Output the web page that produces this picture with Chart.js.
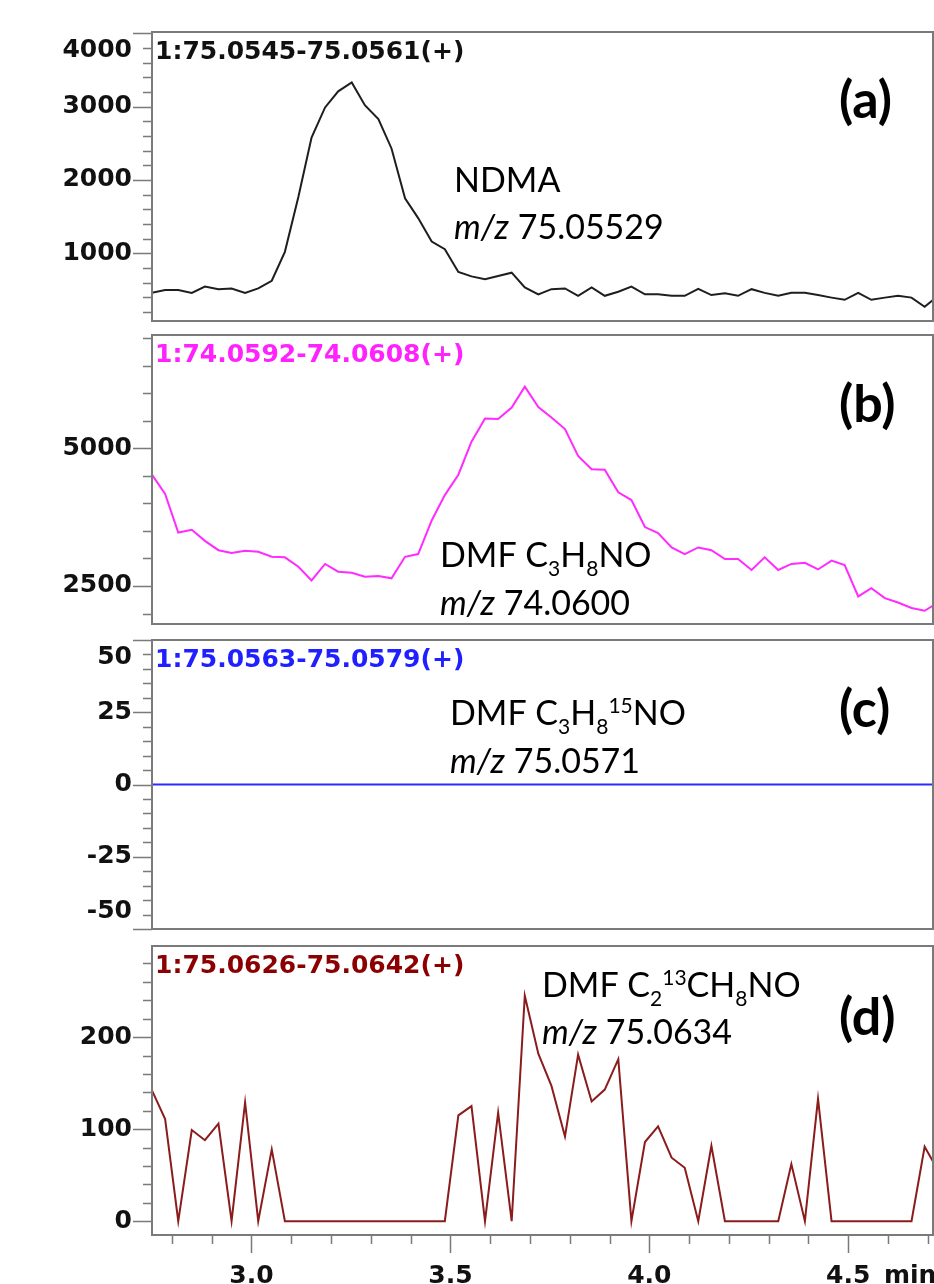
<!DOCTYPE html>
<html>
<head>
<meta charset="utf-8">
<script src="https://cdn.jsdelivr.net/npm/chart.js@4.4.1/dist/chart.umd.min.js"></script>
<style>
  html, body { margin: 0; padding: 0; background: #fff; width: 934px; height: 1284px; overflow: hidden; }
  canvas { position: absolute; left: 0; }
</style>
</head>
<body>
<canvas id="panel-a"></canvas>
<canvas id="panel-b"></canvas>
<canvas id="panel-c"></canvas>
<canvas id="panel-d"></canvas>
<script>
function range(from, to, step) {
  var out = [];
  for (var v = from; v <= to + step / 1000; v += step) out.push(Math.round(v * 1000) / 1000);
  return out;
}

// retention times of the scans (min)
var TIMES = [2.749, 2.783, 2.816, 2.850, 2.883, 2.917, 2.950, 2.984, 3.017, 3.051,
  3.084, 3.118, 3.151, 3.185, 3.218, 3.252, 3.285, 3.319, 3.352, 3.386,
  3.419, 3.453, 3.486, 3.520, 3.553, 3.587, 3.620, 3.654, 3.687, 3.721,
  3.754, 3.788, 3.821, 3.855, 3.888, 3.922, 3.955, 3.989, 4.022, 4.056,
  4.089, 4.123, 4.156, 4.190, 4.223, 4.257, 4.290, 4.324, 4.357, 4.391,
  4.424, 4.458, 4.491, 4.525, 4.558, 4.592, 4.625, 4.659, 4.692, 4.726];

// (a) NDMA  1:75.0545-75.0561(+)
var NDMA = [460, 500, 500, 460, 545, 510, 520, 460, 520, 625,
  1020, 1770, 2580, 2990, 3210, 3330, 3020, 2830, 2430, 1750,
  1480, 1160, 1055, 745, 685, 645, 690, 735, 535, 440,
  510, 520, 420, 535, 420, 475, 545, 440, 440, 420,
  420, 515, 430, 455, 420, 510, 460, 420, 460, 460,
  430, 395, 365, 460, 365, 395, 420, 395, 270, 420];

// (b) DMF C3H8NO  1:74.0592-74.0608(+)
var DMF = [4530, 4170, 3470, 3520, 3320, 3150, 3100, 3140, 3120, 3030,
  3020, 2850, 2600, 2900, 2760, 2740, 2670, 2680, 2640, 3030,
  3080, 3690, 4150, 4520, 5120, 5540, 5530, 5740, 6120, 5750,
  5560, 5350, 4860, 4620, 4610, 4200, 4060, 3570, 3460, 3200,
  3080, 3200, 3150, 2990, 2990, 2790, 3020, 2790, 2900, 2920,
  2800, 2960, 2880, 2310, 2460, 2280, 2200, 2100, 2050, 2200];

// (c) DMF C3H8 15NO  1:75.0563-75.0579(+)
var DMF_15N = [0, 0, 0, 0, 0, 0, 0, 0, 0, 0,
  0, 0, 0, 0, 0, 0, 0, 0, 0, 0,
  0, 0, 0, 0, 0, 0, 0, 0, 0, 0,
  0, 0, 0, 0, 0, 0, 0, 0, 0, 0,
  0, 0, 0, 0, 0, 0, 0, 0, 0, 0,
  0, 0, 0, 0, 0, 0, 0, 0, 0, 0];

// (d) DMF C2 13CH8NO  1:75.0626-75.0642(+)
var DMF_13C = [143, 111, 0, 99, 88, 106, 0, 129, 0, 78,
  0, 0, 0, 0, 0, 0, 0, 0, 0, 0,
  0, 0, 0, 115, 125, 0, 118, 0, 245, 182,
  147, 92, 181, 130, 143, 176, 0, 86, 103, 69,
  58, 0, 82, 0, 0, 0, 0, 0, 62, 0,
  133, 0, 0, 0, 0, 0, 0, 0, 81, 55];

// tick marks and the labelled (long) ticks
var Y_TICKS_A = range(200, 4000, 200), Y_LABELS_A = [1000, 2000, 3000, 4000];
var Y_TICKS_B = range(2000, 7000, 500), Y_LABELS_B = [2500, 5000];
var Y_TICKS_C = range(-50, 50, 5), Y_LABELS_C = [-50, -25, 0, 25, 50];
var Y_TICKS_D = range(0, 280, 20), Y_LABELS_D = [0, 100, 200];
var X_TICKS = range(2.8, 4.7, 0.1), X_LABELS = [3.0, 3.5, 4.0, 4.5];

var X_MIN = 2.75, X_MAX = 4.713;
var PAD = 20, BOTTOM_EDGE = 1310;
var AXIS = "#7a7a7a";
var TICK_FONT = { family: "'DejaVu Sans'", size: 25, weight: "bold", lineHeight: 1.4 };

function isXLabel(v) {
  return X_LABELS.some(function (l) { return Math.abs(l - v) < 1e-6; });
}

function drawRich(ctx, x, y, parts, size) {
  parts.forEach(function (p) {
    var s = (p.sub || p.sup) ? Math.round(size * 0.62) : size;
    ctx.font = (p.it ? "italic " : "") + s + "px Lato";
    var dy = p.sub ? 9 : (p.sup ? -12 : 0);
    ctx.fillText(p.t, x, y + dy);
    x += ctx.measureText(p.t).width;
  });
}

var framePlugin = {
  id: "frame",
  afterDatasetsDraw: function (chart, args, o) {
    var ctx = chart.ctx, a = chart.chartArea;
    var ys = chart.scales.y, xs = chart.scales.x;
    ctx.save();
    // tick marks: long for labelled values, short otherwise
    ctx.strokeStyle = AXIS;
    ctx.lineWidth = 1.5;
    ctx.beginPath();
    ys.ticks.forEach(function (t) {
      var y = Math.round(ys.getPixelForValue(t.value)) + 0.5;
      var len = o.yLabels.indexOf(t.value) >= 0 ? 19 : 9;
      ctx.moveTo(a.left - len, y); ctx.lineTo(a.left, y);
    });
    if (o.xTicks) {
      xs.ticks.forEach(function (t) {
        var x = Math.round(xs.getPixelForValue(t.value)) + 0.5;
        var len = isXLabel(t.value) ? 18 : 9;
        ctx.moveTo(x, a.bottom); ctx.lineTo(x, a.bottom + len);
      });
    }
    ctx.stroke();
    ctx.lineWidth = 2;
    ctx.strokeRect(a.left, a.top, a.right - a.left, a.bottom - a.top);

    // trace title
    ctx.textBaseline = "alphabetic";
    ctx.textAlign = "left";
    ctx.font = "bold 25px 'DejaVu Sans'";
    ctx.fillStyle = o.titleColor;
    ctx.fillText(o.title, a.left + 3, a.top + 27);

    // panel letter and compound notes
    ctx.fillStyle = "#000";
    ctx.font = "bold 52px Lato";
    ctx.fillText(o.letter, 839, o.letterY - o.canvasTop);
    o.notes.forEach(function (n) { drawRich(ctx, n.x, n.y - o.canvasTop, n.parts, 34); });

    if (o.xTicks) {
      ctx.font = "bold 25px 'DejaVu Sans'";
      ctx.fillStyle = "#111";
      ctx.textBaseline = "middle";
      ctx.fillText("min", 884, a.bottom + 24 + 17.5);
    }
    ctx.restore();
  }
};

function makePanel(id, p) {
  var cv = document.getElementById(id);
  var canvasTop = p.top - PAD;
  var bottom = p.last ? BOTTOM_EDGE : p.bottom + PAD;
  cv.width = 934;
  cv.height = bottom - canvasTop;
  cv.style.top = canvasTop + "px";
  new Chart(cv, {
    type: "line",
    data: {
      datasets: [{
        data: TIMES.map(function (t, i) { return { x: t, y: p.values[i] }; }),
        borderColor: p.color, borderWidth: 2, pointRadius: 0, tension: 0, fill: false,
      }],
    },
    options: {
      responsive: false, animation: false, devicePixelRatio: 1, events: [],
      layout: { padding: { top: PAD, bottom: p.last ? 0 : PAD, left: 0, right: 1 } },
      plugins: {
        legend: { display: false }, tooltip: { enabled: false },
        frame: {
          yLabels: p.yLabels, xTicks: !!p.last, title: p.title, titleColor: p.titleColor,
          letter: p.letter, letterY: p.letterY, notes: p.notes, canvasTop: canvasTop,
        },
      },
      scales: {
        x: {
          type: "linear", min: X_MIN, max: X_MAX, bounds: "data", display: !!p.last,
          grid: { display: false, drawTicks: false }, border: { display: false },
          afterBuildTicks: function (s) { s.ticks = X_TICKS.map(function (v) { return { value: v }; }); },
          afterFit: function (s) {
            if (p.last) s.height = BOTTOM_EDGE - p.bottom;
            s.paddingLeft = 0; s.paddingRight = 0;
          },
          ticks: {
            autoSkip: false, maxRotation: 0, padding: 24, color: "#111", font: TICK_FONT,
            callback: function (v) { return isXLabel(v) ? v.toFixed(1) : ""; },
          },
        },
        y: {
          type: "linear", min: p.yMin, max: p.yMax, bounds: "data",
          grid: { display: false, drawTicks: false }, border: { display: false },
          afterBuildTicks: function (s) { s.ticks = p.yTicks.map(function (v) { return { value: v }; }); },
          afterFit: function (s) { s.width = 152; s.paddingTop = 0; s.paddingBottom = 0; },
          ticks: {
            autoSkip: false, padding: 20, color: "#111", font: TICK_FONT,
            callback: function (v) {
              if (p.yLabels.indexOf(v) < 0) return "";
              // labels sitting on the frame edge are nudged inside, as in the instrument print
              if (v === p.edgeTop) return ["", String(v)];
              if (v === p.edgeBottom) return [String(v), ""];
              return String(v);
            },
          },
        },
      },
    },
    plugins: [framePlugin],
  });
}

makePanel("panel-a", {
  top: 32, bottom: 321, yMin: 76, yMax: 4019, yTicks: Y_TICKS_A, yLabels: Y_LABELS_A, edgeTop: 4000,
  values: NDMA, color: "#1e1e1e", title: "1:75.0545-75.0561(+)", titleColor: "#111",
  letter: "(a)", letterY: 118,
  notes: [
    { x: 454, y: 192, parts: [{ t: "NDMA" }] },
    { x: 454, y: 239, parts: [{ t: "m/z", it: true }, { t: " 75.05529" }] },
  ],
});
makePanel("panel-b", {
  top: 335, bottom: 624, yMin: 1810, yMax: 7057, yTicks: Y_TICKS_B, yLabels: Y_LABELS_B,
  values: DMF, color: "#ff2bff", title: "1:74.0592-74.0608(+)", titleColor: "#ff22ff",
  letter: "(b)", letterY: 422,
  notes: [
    { x: 440, y: 567, parts: [{ t: "DMF C" }, { t: "3", sub: true }, { t: "H" }, { t: "8", sub: true }, { t: "NO" }] },
    { x: 440, y: 615, parts: [{ t: "m/z", it: true }, { t: " 74.0600" }] },
  ],
});
makePanel("panel-c", {
  top: 640, bottom: 929, yMin: -50, yMax: 50, yTicks: Y_TICKS_C, yLabels: Y_LABELS_C, edgeTop: 50, edgeBottom: -50,
  values: DMF_15N, color: "#2b2bff", title: "1:75.0563-75.0579(+)", titleColor: "#1f1fff",
  letter: "(c)", letterY: 727,
  notes: [
    { x: 450, y: 725, parts: [{ t: "DMF C" }, { t: "3", sub: true }, { t: "H" }, { t: "8", sub: true }, { t: "15", sup: true }, { t: "NO" }] },
    { x: 450, y: 773, parts: [{ t: "m/z", it: true }, { t: " 75.0571" }] },
  ],
});
makePanel("panel-d", {
  top: 946, bottom: 1235, yMin: -15, yMax: 299, yTicks: Y_TICKS_D, yLabels: Y_LABELS_D, last: true,
  values: DMF_13C, color: "#8b1c1c", title: "1:75.0626-75.0642(+)", titleColor: "#8b0000",
  letter: "(d)", letterY: 1035,
  notes: [
    { x: 542, y: 997, parts: [{ t: "DMF C" }, { t: "2", sub: true }, { t: "13", sup: true }, { t: "CH" }, { t: "8", sub: true }, { t: "NO" }] },
    { x: 542, y: 1044, parts: [{ t: "m/z", it: true }, { t: " 75.0634" }] },
  ],
});
</script>
</body>
</html>
